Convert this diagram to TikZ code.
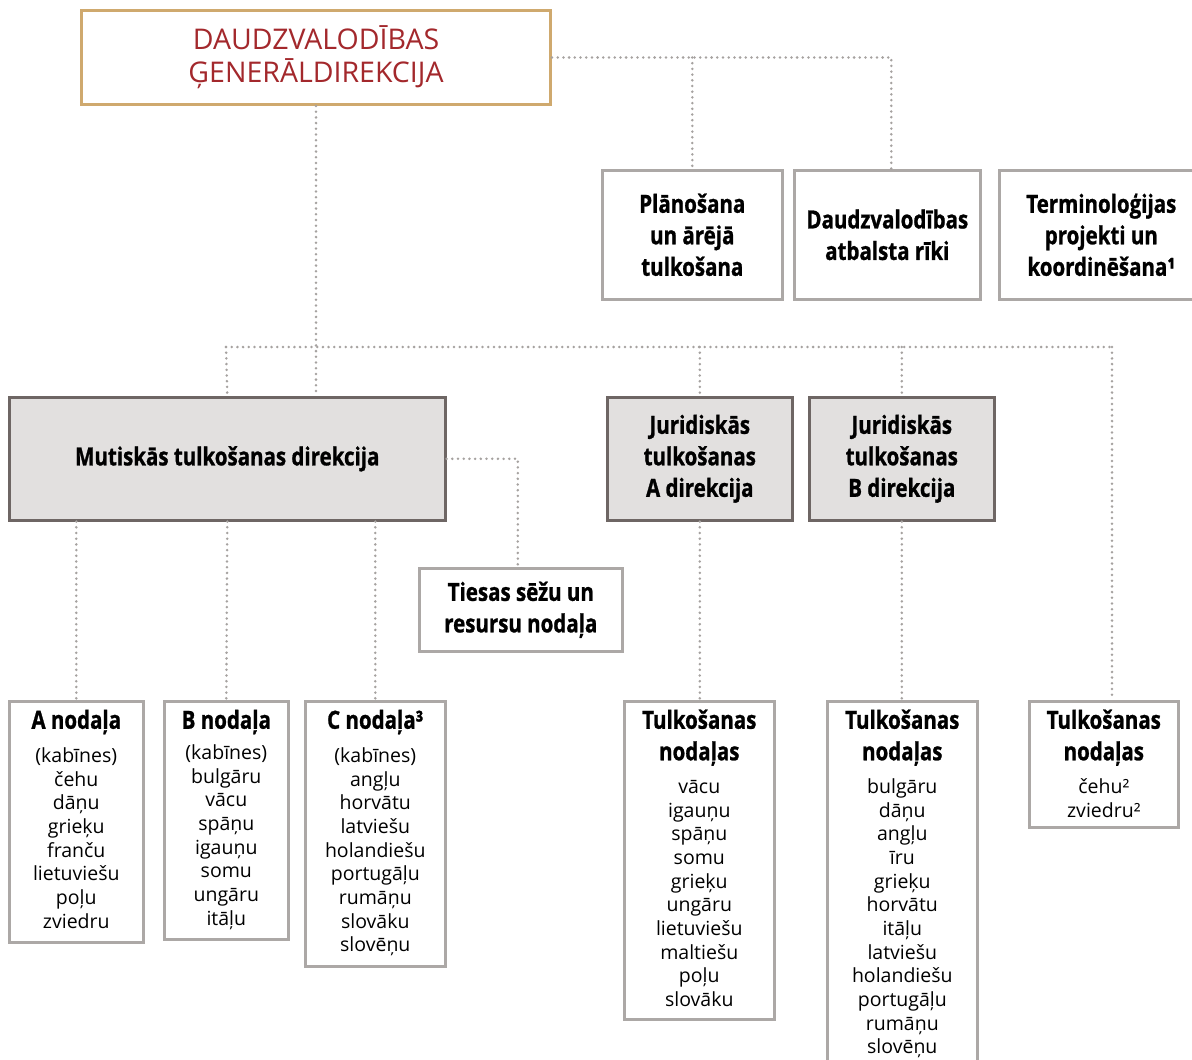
\documentclass[tikz,border=0pt]{standalone}
\usepackage{fontspec}
\setmainfont{Open Sans}
\newfontfamily\condbold{Open Sans}[FakeStretch=0.82,FakeBold=1]
\definecolor{gdred}{HTML}{A3282C}
\definecolor{gdframe}{HTML}{CFA96E}
\definecolor{boxgray}{HTML}{ACA8A6}
\definecolor{boxdark}{HTML}{6E6664}
\definecolor{boxfill}{HTML}{E2E0DF}
\definecolor{dotgray}{HTML}{A6A2A0}
\tikzset{
  dotline/.style={draw=dotgray, line width=2.8pt, line cap=round, dash pattern=on 0pt off 5.7pt},
  lightbox/.style={draw=boxgray, line width=2.6pt, fill=white, anchor=north west, inner sep=0pt},
  darkbox/.style={draw=boxdark, line width=2.6pt, fill=boxfill, anchor=north west, inner sep=0pt},
  head/.style={font=\condbold\bfseries\fontsize{25}{31.5}\selectfont, align=center, inner sep=0pt},
  listtext/.style={font=\fontsize{19.5}{23.65}\selectfont, align=center, inner sep=0pt, anchor=north},
}
\begin{document}
\begin{tikzpicture}[x=1pt,y=-1pt]
\useasboundingbox (0,0) rectangle (1192,1060);

% directorate general
\node[draw=gdframe, line width=3pt, fill=white, anchor=north west, inner sep=0pt,
      minimum width=469, minimum height=94] (gd) at (80,9) {};
\node[font=\fontsize{28.5}{33}\selectfont, text=gdred, align=center] (gdtext) at (gd.center)
  {DAUDZVALODĪBAS\\ĢENERĀLDIREKCIJA};

% units attached to the directorate general
\node[lightbox, minimum width=180, minimum height=129] (plan) at (601,169) {};
\node[head] (plantext) at (plan.center) {Plānošana\\un ārējā\\tulkošana};
\node[lightbox, minimum width=186, minimum height=129] (tools) at (793,169) {};
\node[head] (toolstext) at (tools.center) {Daudzvalodības\\atbalsta rīki};
\node[lightbox, minimum width=200, minimum height=129] (term) at (998,169) {};
\node[head] (termtext) at ([xshift=2]term.center) {Terminoloģijas\\projekti un\\koordinēšana¹};

% directorates
\node[darkbox, minimum width=436, minimum height=123] (mtd) at (8,396) {};
\node[head] (mtdtext) at (mtd.center) {Mutiskās tulkošanas direkcija};
\node[darkbox, minimum width=185, minimum height=123] (jura) at (606,396) {};
\node[head] (juratext) at (jura.center) {Juridiskās\\tulkošanas\\A direkcija};
\node[darkbox, minimum width=185, minimum height=123] (jurb) at (808,396) {};
\node[head] (jurbtext) at (jurb.center) {Juridiskās\\tulkošanas\\B direkcija};

\node[lightbox, minimum width=203, minimum height=83] (court) at (418,567) {};
\node[head] (courttext) at (court.center) {Tiesas sēžu un\\resursu nodaļa};

% units
\node[lightbox, minimum width=134, minimum height=241] (ua) at (8,700) {};
\node[head, anchor=north] (uahead) at ([yshift=-6.5]ua.north) {\strut A nodaļa};
\node[listtext] (ualist) at ([yshift=-7.5]uahead.south)
  {\strut(kabīnes)\\čehu\\dāņu\\grieķu\\franču\\lietuviešu\\poļu\\zviedru};

\node[lightbox, minimum width=124, minimum height=238] (ub) at (163,700) {};
\node[head, anchor=north] (ubhead) at ([yshift=-6.5]ub.north) {\strut B nodaļa};
\node[listtext] (ublist) at ([yshift=-4.5]ubhead.south)
  {\strut(kabīnes)\\bulgāru\\vācu\\spāņu\\igauņu\\somu\\ungāru\\itāļu};

\node[lightbox, minimum width=140, minimum height=265] (uc) at (304,700) {};
\node[head, anchor=north] (uchead) at ([yshift=-6.5]uc.north) {\strut C nodaļa³};
\node[listtext] (uclist) at ([yshift=-7.5]uchead.south)
  {\strut(kabīnes)\\angļu\\horvātu\\latviešu\\holandiešu\\portugāļu\\rumāņu\\slovāku\\slovēņu};

\node[lightbox, minimum width=150, minimum height=318] (ta) at (623,700) {};
\node[head, anchor=north] (tahead) at ([yshift=-6.5]ta.north) {\strut Tulkošanas\\nodaļas\strut};
\node[listtext] (talist) at ([yshift=-7]tahead.south)
  {\strut vācu\\igauņu\\spāņu\\somu\\grieķu\\ungāru\\lietuviešu\\maltiešu\\poļu\\slovāku};

\node[lightbox, minimum width=150, minimum height=372] (tb) at (826,700) {};
\node[head, anchor=north] (tbhead) at ([yshift=-6.5]tb.north) {\strut Tulkošanas\\nodaļas\strut};
\node[listtext] (tblist) at ([yshift=-7]tbhead.south)
  {\strut bulgāru\\dāņu\\angļu\\īru\\grieķu\\horvātu\\itāļu\\latviešu\\holandiešu\\portugāļu\\rumāņu\\slovēņu};

\node[lightbox, minimum width=149, minimum height=126] (tc) at (1028,700) {};
\node[head, anchor=north] (tchead) at ([yshift=-6.5]tc.north) {\strut Tulkošanas\\nodaļas\strut};
\node[listtext] (tclist) at ([yshift=-7]tchead.south)
  {\strut čehu²\\zviedru²};

% dotted connectors
\coordinate (busL) at (226,347);
\coordinate (busR) at (1112,347);
\draw[dotline] (gd.east) -| ([xshift=4]tools.north);
\draw[dotline] (gd.east -| plan.north) -- (plan.north);
\draw[dotline] (gd.south) -- (gd.south |- mtd.north);
\draw[dotline] (busL) -- (busR);
\draw[dotline] (busL) -- (mtd.north);
\draw[dotline] (jura.north |- busL) -- (jura.north);
\draw[dotline] (jurb.north |- busL) -- (jurb.north);
\draw[dotline] (busR) -- (busR |- tc.north);
\draw[dotline] (mtd.east) -| ([xshift=-3]court.north);
\draw[dotline] (mtd.south -| ua.north) -- (ua.north);
\draw[dotline] (mtd.south) -- (ub.north);
\draw[dotline] (mtd.south -| uc.north) -- (uc.north);
\draw[dotline] (jura.south) -- (jura.south |- ta.north);
\draw[dotline] (jurb.south) -- (jurb.south |- tb.north);
\end{tikzpicture}
\end{document}
